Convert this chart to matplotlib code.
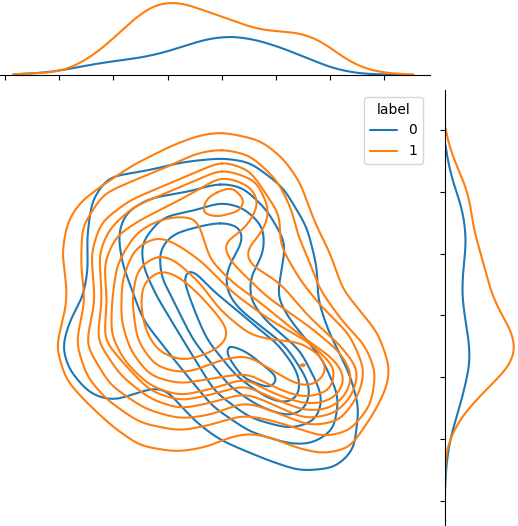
import numpy as np
import matplotlib
matplotlib.use("Agg")
import matplotlib.pyplot as plt
from matplotlib.lines import Line2D

plt.rcParams["lines.solid_capstyle"] = "round"

# contours (x, y), outer to inner
blue_1 = [(222,158),(250,162),(283,187),(307,227),(317,267),(318,300),(328,330),(350,375),(359,407),(354,450),(335,468),(300,471),(270,461),(243,450),(220,440),(197,423),(180,405),(167,390),(157,387),(140,392),(113,401),(90,394),(69,370),(62,347),(70,320),(83,297),(88,270),(87,237),(92,200),(108,177),(150,170),(183,162)]
blue_2 = [(220,183),(243,187),(267,210),(286,243),(281,273),(277,297),(290,320),(323,360),(339,397),(334,430),(312,444),(290,444),(250,432),(213,407),(180,367),(143,320),(122,263),(118,233),(126,212),(150,198),(187,192)]
blue_3 = [(220,202),(243,207),(264,227),(264,253),(250,277),(250,300),(265,320),(300,350),(318,385),(323,400),(316,421),(290,429),(250,418),(215,392),(183,340),(157,297),(143,267),(141,243),(162,217),(197,210)]
blue_4 = [(220,222),(241,226),(244,240),(230,263),(225,277),(228,295),(240,310),(285,345),(305,375),(311,390),(306,409),(290,417),(260,407),(230,387),(193,340),(173,300),(161,277),(159,250),(172,234),(197,227)]
blue_5 = [(190,267),(200,277),(212,290),(233,307),(260,330),(277,343),(295,367),(301,383),(298,399),(285,404),(267,398),(237,377),(207,340),(195,312),(187,290),(182,276)]
blue_6 = [(227,344),(247,352),(279,378),(271,389),(243,378),(226,354)]

orange_1 = [(222,132),(260,140),(283,158),(300,182),(315,223),(330,253),(343,290),(357,307),(378,333),(390,367),(387,387),(374,413),(350,448),(323,454),(297,448),(273,438),(250,433),(230,437),(207,447),(177,452),(140,446),(113,427),(87,403),(66,380),(56,347),(66,307),(67,290),(62,253),(67,223),(79,203),(100,187),(133,165),(173,145),(200,135)]
orange_2 = [(222,149),(250,155),(277,180),(292,210),(297,233),(310,263),(320,290),(343,322),(365,345),(376,372),(371,405),(350,431),(323,437),(303,430),(270,420),(243,415),(210,425),(180,431),(140,423),(107,400),(87,377),(76,343),(85,300),(81,267),(82,227),(103,194),(130,182),(167,167),(197,153)]
orange_3 = [(222,161),(250,170),(280,215),(280,245),(300,280),(320,305),(350,335),(365,370),(359,395),(340,421),(310,426),(270,410),(245,402),(210,415),(180,419),(145,409),(110,385),(86,345),(95,300),(91,253),(101,222),(130,200),(173,182)]
orange_4 = [(222,169),(256,180),(270,210),(264,230),(245,251),(248,263),(280,283),(310,318),(340,345),(359,370),(353,395),(335,414),(305,419),(270,403),(245,393),(210,403),(180,409),(150,399),(120,375),(97,340),(102,300),(99,253),(109,229),(133,207),(173,190)]
orange_5 = [(222,176),(251,186),(260,203),(246,228),(222,244),(230,261),(267,297),(310,327),(340,352),(353,375),(346,396),(330,409),(305,411),(270,397),(245,385),(210,395),(180,401),(150,391),(125,365),(104,340),(107,300),(104,263),(116,236),(140,220),(180,200)]
orange_6 = [(170,217),(196,217),(201,230),(210,260),(233,283),(257,300),(300,335),(335,360),(346,378),(338,396),(320,404),(300,403),(270,392),(245,378),(215,388),(180,396),(150,386),(125,362),(111,335),(112,300),(117,264),(135,234),(150,224)]
orange_7 = [(157,236),(175,243),(200,260),(233,293),(270,320),(310,343),(336,368),(331,391),(305,398),(280,390),(247,373),(215,378),(180,384),(150,376),(130,350),(121,320),(122,280),(134,249)]
orange_8 = [(158,254),(175,260),(200,283),(220,310),(250,335),(273,340),(300,342),(323,357),(328,372),(314,386),(300,386),(280,375),(247,355),(220,360),(197,370),(180,373),(155,366),(137,340),(132,300),(137,269)]
orange_9 = [(160,269),(178,276),(197,292),(215,312),(229,330),(226,343),(205,355),(183,361),(160,353),(147,335),(141,310),(142,284)]
orange_top = [(217,192),(232,187),(245,200),(240,211),(217,217),(202,213),(206,199)]
orange_dot = [(301,365),(303,364),(305,365),(303,366.5)]

blue_contours = [blue_1, blue_2, blue_3, blue_4, blue_5, blue_6]
orange_contours = [orange_1, orange_2, orange_3, orange_4, orange_5, orange_6, orange_7,
                   orange_8, orange_9, orange_top, orange_dot]

# top marginal
top_x_orange = [10,50,67,83,100,117,133,150,163,173,187,207,227,247,263,277,293,310,327,343,360,377,397,417]
top_y_orange = [74.5,72.7,69.3,61.7,50,35,20,7.3,2.7,2,4.3,11.7,18.3,26,30,31.3,32,36,45,57.3,66.7,71.7,74,74.5]
top_x_blue = [10,40,60,83,110,143,167,187,210,233,257,283,310,333,357,380,408]
top_y_blue = [74.5,73,70.7,66,61.7,57.3,51.7,45,38.3,36.2,40,48.3,59.3,68.3,73.3,74.5,74.7]
top_ticks = [5,59,113,167.5,221.5,276,330,384]

# right marginal
right_y_orange = [125,142,162,182,202,225,245,268,292,312,328,348,365,378,395,415,432,448,462,480]
right_d_orange = [0,3,10,19,25,28,33,40,46,55,65,71,65,53,36,18,8,2,0.3,0]
right_y_blue = [142,162,182,205,225,245,272,295,318,342,362,382,402,425,445,468,492]
right_d_blue = [0,3,8,16,20,21,18,17,20,24,25,21,16,9,4,1,0]
right_ticks = [130,192,254,315,377,439,501]

legend_title = "label"
legend_labels = ["0", "1"]
BLUE = "#1f77b4"
ORANGE = "#ff7f0e"
W, H = 518, 526


def smooth(points, closed=True):
    # smooth line through the read points: even spacing along the line, then a
    # small gaussian along it, so hand reading wobble does not show
    p = np.array(points, dtype=float)
    if closed:
        p = np.vstack([p, p[:1]])
    seg = np.hypot(*np.diff(p, axis=0).T)
    s = np.r_[0, np.cumsum(seg)]
    length = s[-1]
    n = max(int(length), 8)
    t = np.linspace(0, length, n, endpoint=not closed)
    x, y = np.interp(t, s, p[:, 0]), np.interp(t, s, p[:, 1])
    sigma = min(9.0, length / 22)
    r = int(3 * sigma) + 1
    k = np.exp(-0.5 * (np.arange(-r, r + 1) * length / n / sigma) ** 2)
    k /= k.sum()
    mode = "wrap" if closed else "edge"
    x = np.convolve(np.pad(x, r, mode=mode), k, "valid")
    y = np.convolve(np.pad(y, r, mode=mode), k, "valid")
    if closed:
        x, y = np.r_[x, x[0]], np.r_[y, y[0]]
    return x, y


def box(x0, y0, x1, y1):
    return [x0/W, 1-y1/H, (x1-x0)/W, (y1-y0)/H]


fig = plt.figure(figsize=(W/100, H/100), dpi=100)
ax = fig.add_axes(box(0, 90, 430, 526))
ax_top = fig.add_axes(box(0, 0, 430, 75))
ax_right = fig.add_axes(box(445, 90, 518, 526))

ax.set_xlim(0, 430)
ax.set_ylim(526, 90)
ax.axis("off")
for c in blue_contours:
    ax.plot(*smooth(c), color=BLUE, lw=1.5)
for c in orange_contours:
    ax.plot(*smooth(c), color=ORANGE, lw=1.5)

handles = [Line2D([], [], color=BLUE, lw=1.5), Line2D([], [], color=ORANGE, lw=1.5)]
ax.legend(handles, legend_labels, title=legend_title, loc="upper right",
          bbox_to_anchor=(423/430, 1 - 7/436), borderaxespad=0)

ax_top.set_xlim(0, 430)
ax_top.set_ylim(75, 0)
ax_top.plot(*smooth(list(zip(top_x_blue, top_y_blue)), False), color=BLUE, lw=1.5)
ax_top.plot(*smooth(list(zip(top_x_orange, top_y_orange)), False), color=ORANGE, lw=1.5)
ax_top.set_xticks(top_ticks)
ax_top.set_xticklabels([])
ax_top.set_yticks([])
for s in ["top", "left", "right"]:
    ax_top.spines[s].set_visible(False)
ax_top.patch.set_visible(False)

ax_right.set_xlim(0, 73)
ax_right.set_ylim(526, 90)
ax_right.plot(*smooth(list(zip(right_d_blue, right_y_blue)), False), color=BLUE, lw=1.5)
ax_right.plot(*smooth(list(zip(right_d_orange, right_y_orange)), False), color=ORANGE, lw=1.5)
ax_right.set_yticks(right_ticks)
ax_right.set_yticklabels([])
ax_right.set_xticks([])
for s in ["top", "bottom", "right"]:
    ax_right.spines[s].set_visible(False)
ax_right.patch.set_visible(False)

fig.savefig("out.png", dpi=100)
